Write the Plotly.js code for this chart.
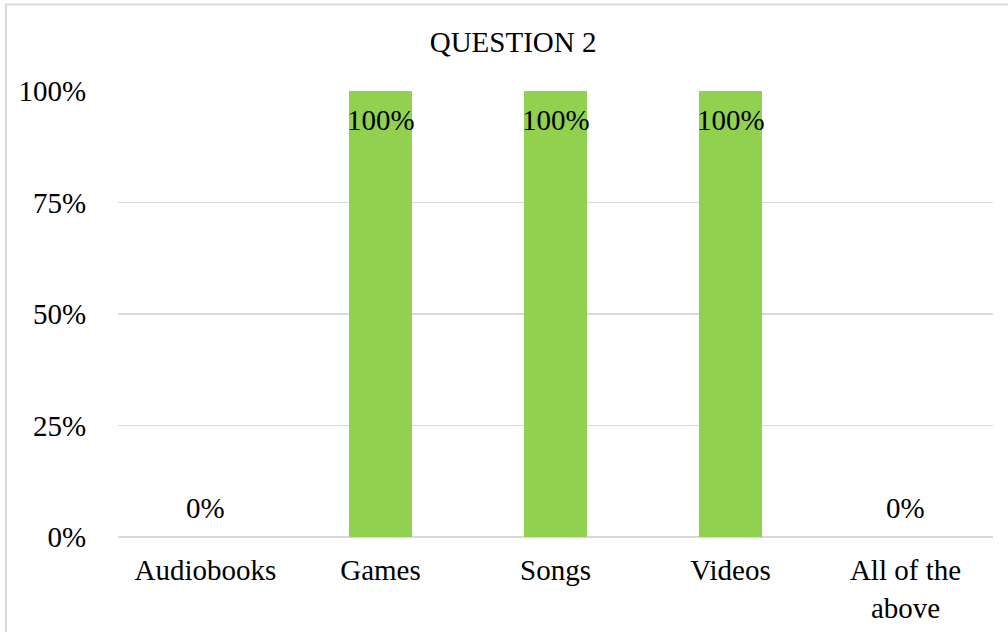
<!DOCTYPE html>
<html>
<head>
<meta charset="utf-8">
<script src="https://cdn.plot.ly/plotly-3.0.1.min.js"></script>
<style>
html,body{margin:0;padding:0;background:#fff;}
#chart{width:1008px;height:632px;}
</style>
</head>
<body>
<div id="chart"></div>
<script>
const categories = ["Audiobooks", "Games", "Songs", "Videos", "All of the<br>above"];
const values = [0, 1, 1, 1, 0];
const valueLabels = ["0%", "100%", "100%", "100%", "0%"];
const tickValues = [0, 0.25, 0.5, 0.75, 1];
const tickLabels = ["0%", "25%", "50%", "75%", "100%"];

const font = "Liberation Serif, Times New Roman, serif";
const fs = 29;

const trace = {
  type: "bar",
  x: categories,
  y: values,
  marker: {color: "#92D050"},
  hoverinfo: "none"
};

const annotations = categories.map((c, i) => {
  const inside = values[i] > 0;
  return {
    x: c, y: values[i], xref: "x", yref: "y",
    text: valueLabels[i],
    showarrow: false,
    xanchor: "center",
    yanchor: inside ? "top" : "bottom",
    yshift: inside ? -11 : 11,
    font: {family: font, size: fs, color: "#000"}
  };
});

const layout = {
  width: 1008,
  height: 632,
  margin: {l: 118, r: 15, t: 91, b: 95, pad: 0},
  paper_bgcolor: "#fff",
  plot_bgcolor: "#fff",
  font: {family: font, size: fs, color: "#000"},
  title: {
    text: "QUESTION 2",
    font: {family: font, size: fs, color: "#000"},
    x: 0.509, xref: "container", xanchor: "center",
    y: 1 - 42/632, yref: "container", yanchor: "middle"
  },
  bargap: 0.64,
  showlegend: false,
  annotations: annotations,
  xaxis: {
    type: "category",
    showgrid: false,
    zeroline: false,
    showline: false,
    ticks: "outside",
    ticklen: 7,
    tickcolor: "rgba(0,0,0,0)",
    tickfont: {family: font, size: fs, color: "#000"},
    fixedrange: true
  },
  yaxis: {
    range: [0, 1],
    tickvals: tickValues,
    ticktext: tickLabels,
    showgrid: true,
    gridcolor: "#d9d9d9",
    gridwidth: 1.5,
    zeroline: true,
    zerolinecolor: "#d9d9d9",
    zerolinewidth: 1.5,
    showline: false,
    ticks: "outside",
    ticklen: 25,
    tickcolor: "rgba(0,0,0,0)",
    tickfont: {family: font, size: fs, color: "#000"},
    fixedrange: true
  },
  shapes: [{
    type: "rect",
    xref: "paper", yref: "paper",
    x0: (6 - 118) / 875, x1: (1015 - 118) / 875,
    y0: (537 - 640) / 446, y1: (537 - 4.5) / 446,
    line: {color: "#d9d9d9", width: 2},
    fillcolor: "rgba(0,0,0,0)",
    layer: "below"
  }]
};

Plotly.newPlot("chart", [trace], layout, {displayModeBar: false, staticPlot: true});
</script>
</body>
</html>
